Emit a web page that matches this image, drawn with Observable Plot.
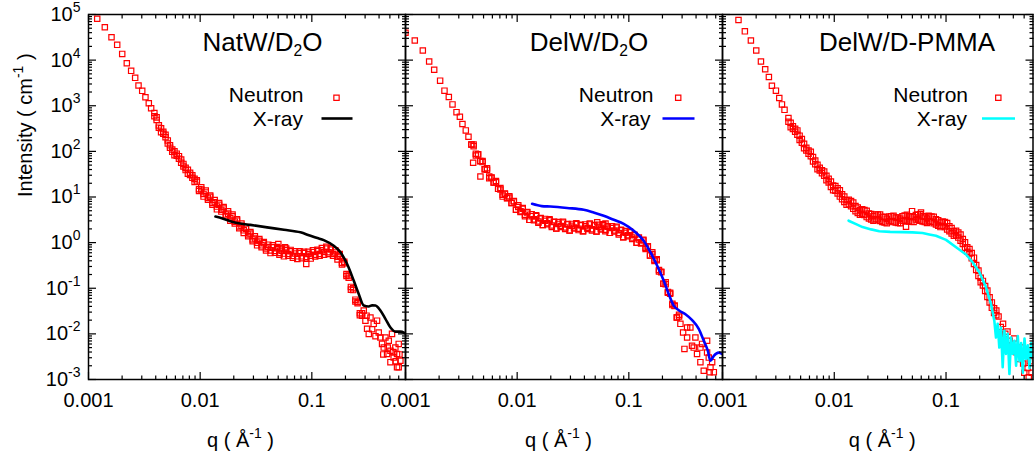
<!DOCTYPE html>
<html>
<head>
<meta charset="utf-8">
<script src="https://cdn.jsdelivr.net/npm/d3@7"></script>
<script src="https://cdn.jsdelivr.net/npm/@observablehq/plot@0.6"></script>
<style>
  html, body { margin: 0; padding: 0; background: #fff; }
  #chart { position: relative; width: 1034px; height: 455px; overflow: hidden; }
  #chart svg { position: absolute; left: 0; top: 0; }
</style>
</head>
<body>
<div id="chart"></div>
<script>
// ---- axis ticks and labels ----
const xMajorTicks = [0.001, 0.01, 0.1];
const xMajorLabels = ["0.001", "0.01", "0.1"];
const xMinorTicks = [0.002, 0.003, 0.004, 0.005, 0.006, 0.007, 0.008, 0.009,
                     0.02, 0.03, 0.04, 0.05, 0.06, 0.07, 0.08, 0.09,
                     0.2, 0.3, 0.4, 0.5, 0.6];
const yMajorTicks = [1e-3, 1e-2, 1e-1, 1, 10, 100, 1e3, 1e4, 1e5];
const yMajorLabels = ["10^{-3}", "10^{-2}", "10^{-1}", "10^{0}", "10^{1}", "10^{2}", "10^{3}", "10^{4}", "10^{5}"];
const yMinorTicks = yMajorTicks.slice(0, -1).flatMap(d => [2, 3, 4, 5, 6, 7, 8, 9].map(m => m * d));

// ---- SANS q grid shared by the neutron runs (Å^-1) ----
const qDense = [0.00389, 0.004074, 0.004266, 0.004467, 0.004677, 0.004898, 0.005129, 0.00537, 0.005623, 0.005888,
  0.006166, 0.006457, 0.006761, 0.007079, 0.007413, 0.007762, 0.008128, 0.008511, 0.008913,
  0.009333, 0.009772, 0.01023, 0.01072, 0.01122, 0.01175, 0.0123, 0.01288, 0.01349, 0.01413,
  0.01479, 0.01549, 0.01622, 0.01698, 0.01778, 0.01862, 0.0195, 0.02042, 0.02138, 0.02239,
  0.02344, 0.02455, 0.0257, 0.02692, 0.02818, 0.02951, 0.0309, 0.03236, 0.03388, 0.03548,
  0.03715, 0.0389, 0.04074, 0.04266, 0.04467, 0.04677, 0.04898, 0.05129, 0.0537, 0.05623,
  0.05888, 0.06166, 0.06457, 0.06761, 0.07079, 0.07413, 0.07762, 0.08128, 0.08511, 0.08913,
  0.09333, 0.09772, 0.1023, 0.1072, 0.1122, 0.1175, 0.123, 0.1288, 0.1349, 0.1413,
  0.1479, 0.1549, 0.1622, 0.1698, 0.1778, 0.1862, 0.195, 0.2042, 0.2138, 0.2239,
  0.2344, 0.2455, 0.257, 0.2692, 0.2818];

// ---- NatW / D2O ----
const natwLowQ = [0.001197, 0.0014, 0.001607, 0.001807, 0.002004, 0.002203, 0.00241, 0.002618, 0.002805, 0.003027, 0.003236, 0.003467, 0.003639];
const natwLowI = [80500, 52700, 31800, 21600, 13700, 8550, 5820, 4090, 2770, 2120, 1535, 1135, 881];
// two detector runs on the shared grid
const natwDenseI = [692, 490, 371.5, 263, 269, 204, 174, 120, 110, 82.2, 89.1, 69.2, 66.1, 46.8, 43.7, 32.4, 33.9, 26.3, 25.1,
  23.2, 14.8, 14.6, 10.2, 12.6, 9.55, 10.8, 7.41, 7.67, 5.37,
  6.76, 5.25, 6.03, 4.12, 4.32, 3.02, 3.76, 2.88, 3.27, 2.26,
  2.34, 1.62, 2.0, 1.51, 1.7, 1.17, 1.23, 0.871, 1.1, 0.871,
  1.035, 0.741, 0.804, 0.589, 0.794, 0.661, 0.804, 0.596, 0.661, 0.501,
  0.676, 0.562, 0.692, 0.513, 0.575, 0.437, 0.589, 0.501, 0.631, 0.484,
  0.562, 0.447, 0.624, 0.543, 0.7, 0.562, 0.676, 0.543, 0.741, 0.617,
  0.759, 0.562, 0.61, 0.427, 0.513, 0.363, 0.38, 0.204, 0.17, 0.0933,
  0.0912, 0.0562, 0.0501, 0.0282, 0.0251];
const natwDenseI2 = [589, 556, 331, 320, 243, 232, 148, 136, 97.7, 100, 80.4, 78.5, 56.2, 53.1, 38.9, 39.4, 30.5, 29.9, 21.4,
  21.6, 13.5, 16.4, 11.7, 13.8, 8.71, 10.1, 6.76, 8.61, 6.17,
  7.41, 4.79, 5.62, 3.76, 4.84, 3.47, 4.12, 2.63, 3.05, 2.07,
  2.63, 1.86, 2.19, 1.38, 1.58, 1.07, 1.38, 1.0, 1.2, 0.794,
  0.966, 0.676, 0.902, 0.676, 0.871, 0.603, 0.75, 0.543, 0.741, 0.575,
  0.741, 0.513, 0.646, 0.468, 0.646, 0.501, 0.646, 0.457, 0.589, 0.442,
  0.631, 0.513, 0.684, 0.495, 0.653, 0.513, 0.759, 0.624, 0.813, 0.562,
  0.708, 0.513, 0.684, 0.49, 0.562, 0.331, 0.355, 0.186, 0.191, 0.107,
  0.1, 0.0513, 0.0468, 0.0257, 0.0282];
const natwExtraQ = [0.2917, 0.302, 0.3126, 0.3236, 0.335, 0.3581, 0.3837, 0.3972, 0.4111, 0.4256, 0.4406, 0.456, 0.4721, 0.4887,
  0.5058, 0.5058, 0.5224, 0.5408, 0.5598, 0.5794, 0.5794, 0.5998, 0.6209, 0.5998, 0.309, 0.3467, 0.3715, 0.4365, 0.4786,
  0.537, 0.5623, 0.6095, 0.05012, 0.05754, 0.08913];
const natwExtraI = [0.0324, 0.0195, 0.0129, 0.01, 0.0229, 0.0166, 0.0195, 0.0107, 0.00832, 0.00603, 0.00501, 0.00832, 0.00363, 0.00708,
  0.00427, 0.0024, 0.01, 0.00302, 0.00501, 0.00363, 0.00186, 0.00603, 0.00257, 0.00186, 0.0251, 0.0126, 0.00891, 0.00355, 0.00501,
  0.00398, 0.00251, 0.00355, 0.933, 0.794, 0.34];
const natwXrayQ = [0.01371, 0.01585, 0.02, 0.02818, 0.03981, 0.05623, 0.0791, 0.0973, 0.1122, 0.1279, 0.157, 0.1803, 0.207,
  0.2371, 0.263, 0.2917, 0.3228, 0.3467, 0.3715, 0.4111, 0.456, 0.5058, 0.5598, 0.6209, 0.6887];
const natwXrayI = [3.72, 3.39, 2.79, 2.45, 2.16, 1.91, 1.68, 1.41, 1.26, 1.135, 0.851, 0.617, 0.339,
  0.148, 0.075, 0.0417, 0.0398, 0.0422, 0.0417, 0.0324, 0.0214, 0.0138, 0.0112, 0.0112, 0.0102];

// ---- DelW / D2O ----
const delwLowQ = [0.001, 0.001211, 0.001429, 0.001629, 0.001807, 0.002042, 0.002234, 0.002443, 0.002636, 0.002864, 0.003069, 0.003236, 0.003467, 0.003664];
const delwLowI = [39800, 26900, 16200, 9330, 6170, 3550, 2140, 1550, 1070, 724, 575, 398, 288, 209];
const delwDenseI = [141, 141, 81.3, 85.1, 61.7, 61.7, 40.7, 42.7, 25.7, 26.3, 20.9, 22.4, 15.1, 15.8, 10.2, 11.7, 9.55, 10.4, 7.41,
  8.13, 5.25, 6.03, 4.9, 5.5, 4.07, 4.68, 3.16, 3.8, 3.24,
  3.8, 2.92, 3.47, 2.43, 3.02, 2.66, 3.09, 2.37, 2.88, 2.04,
  2.57, 2.32, 2.75, 2.14, 2.57, 1.84, 2.34, 2.14, 2.54, 2.02,
  2.45, 1.78, 2.29, 2.09, 2.51, 1.97, 2.43, 1.76, 2.24, 2.04,
  2.43, 1.91, 2.29, 1.64, 2.09, 1.84, 2.14, 1.62, 1.91, 1.32,
  1.64, 1.45, 1.68, 1.29, 1.48, 1.0, 1.17, 1.0, 1.11, 0.776,
  0.832, 0.525, 0.562, 0.417, 0.412, 0.251, 0.229, 0.126, 0.123, 0.0832,
  0.0759, 0.0457, 0.0417, 0.0229, 0.024];
const delwDenseI2 = [141, 130, 89.1, 86.1, 61.0, 58.2, 40.7, 39.4, 28.2, 26.6, 20.7, 21.1, 15.1, 14.6, 11.2, 11.9, 9.44, 9.77, 7.41,
  7.94, 5.25, 6.61, 4.68, 5.75, 3.8, 4.57, 3.16, 4.17, 3.09,
  3.98, 2.72, 3.39, 2.43, 3.31, 2.54, 3.24, 2.21, 2.82, 2.04,
  2.82, 2.21, 2.88, 2.0, 2.51, 1.84, 2.57, 2.04, 2.66, 1.88,
  2.4, 1.78, 2.51, 2.0, 2.63, 1.84, 2.37, 1.76, 2.45, 1.95,
  2.54, 1.78, 2.24, 1.64, 2.29, 1.76, 2.24, 1.51, 1.86, 1.32,
  1.8, 1.38, 1.76, 1.2, 1.45, 1.0, 1.29, 0.955, 1.16, 0.724,
  0.813, 0.525, 0.617, 0.398, 0.432, 0.234, 0.224, 0.126, 0.135, 0.0794,
  0.0794, 0.0427, 0.0407, 0.0229, 0.0263];
const delwExtraQ = [0.004036, 0.004688, 0.05212, 0.0618,
  0.2897, 0.3062, 0.3148, 0.3327, 0.3556, 0.3681, 0.3945, 0.4083, 0.4375, 0.4529, 0.4688, 0.5023, 0.52, 0.5383,
  0.5572, 0.5297, 0.5768, 0.5023, 0.4375, 0.3811, 0.3327];
const delwExtraI = [56.2, 28.2, 2.79, 2.63,
  0.0166, 0.0107, 0.00468, 0.00832, 0.0138, 0.0055, 0.00832, 0.00363, 0.0024, 0.00603, 0.00155, 0.00708, 0.00302, 0.00186,
  0.0024, 0.00145, 0.00145, 0.00389, 0.00501, 0.00501, 0.0138];
const delwXrayQ = [0.01361, 0.0166, 0.01986, 0.02799, 0.03945, 0.04842, 0.05957, 0.07328, 0.08995, 0.1107, 0.1358, 0.156, 0.1791,
  0.2051, 0.2275, 0.2523, 0.2799, 0.3214, 0.369, 0.4227, 0.4688, 0.5093, 0.5383, 0.5768, 0.6383, 0.6839];
const delwXrayI = [7.08, 6.31, 6.17, 5.75, 5.25, 4.57, 3.89, 3.16, 2.57, 1.82, 1.1, 0.617, 0.316,
  0.148, 0.075, 0.0417, 0.0331, 0.0269, 0.02, 0.0129, 0.00708, 0.00427, 0.00257, 0.00331, 0.00389, 0.00363];

// ---- DelW / D-PMMA ----
const pmmaLowQ = [0.00139, 0.001585, 0.001795, 0.002004, 0.002208, 0.00241, 0.0026, 0.002767, 0.003006, 0.003221, 0.003404, 0.003589];
const pmmaLowI = [75900, 42700, 26900, 16200, 9330, 6310, 4270, 2750, 2140, 1480, 1070, 813];
const pmmaDenseI = [537, 339, 355, 269, 288, 178, 186, 117, 120, 89.1, 97.7, 60.3, 63.1, 40.7, 43.7, 33.1, 36.3, 23.4, 25.1,
  16.6, 17.8, 13.8, 15.5, 10.2, 11.5, 7.76, 8.51, 6.92, 8.13,
  5.5, 6.31, 4.47, 5.13, 4.27, 5.19, 3.63, 4.37, 3.2, 3.8,
  3.27, 4.12, 2.99, 3.67, 2.75, 3.35, 2.95, 3.8, 2.82, 3.55,
  2.69, 3.35, 3.02, 3.94, 2.95, 3.76, 2.88, 3.59, 3.2, 4.12,
  3.02, 3.76, 2.82, 3.39, 2.95, 3.72, 2.66, 3.24, 2.34, 2.75,
  2.32, 2.82, 1.95, 2.29, 1.58, 1.78, 1.45, 1.66, 1.1, 1.2,
  0.776, 0.794, 0.575, 0.589, 0.339, 0.324, 0.186, 0.17, 0.115, 0.112,
  0.0646, 0.0631, 0.0372, 0.0363, 0.0257];
const pmmaDenseI2 = [447, 422, 309, 313, 232, 221, 155, 146, 105, 104, 78.5, 75.0, 52.5, 50.7, 38.0, 38.5, 29.2, 29.2, 20.9,
  21.9, 14.1, 17.4, 12.0, 14.1, 8.91, 10.2, 6.76, 8.71, 6.31,
  7.59, 4.9, 5.89, 4.07, 5.37, 4.03, 5.01, 3.39, 4.22, 3.02,
  4.12, 3.2, 4.12, 2.85, 3.63, 2.66, 3.72, 2.95, 3.89, 2.75,
  3.55, 2.66, 3.8, 3.05, 4.07, 2.92, 3.8, 2.85, 4.03, 3.2,
  4.17, 2.92, 3.72, 2.69, 3.72, 2.88, 3.67, 2.51, 3.09, 2.19,
  2.92, 2.19, 2.69, 1.78, 2.09, 1.41, 1.82, 1.29, 1.51, 0.933,
  1.02, 0.631, 0.724, 0.457, 0.468, 0.251, 0.245, 0.135, 0.145, 0.0871,
  0.0891, 0.049, 0.049, 0.0288, 0.0324];
const pmmaExtraQ = [0.04966, 0.0597, 0.06982, 0.04385,
  0.2951, 0.309, 0.3236, 0.3388, 0.3548, 0.3715, 0.389, 0.4074, 0.4266, 0.4467, 0.4677, 0.4898, 0.5012, 0.5129,
  0.537, 0.5495, 0.5623, 0.5821];
const pmmaExtraI = [4.9, 4.57, 3.89, 2.24,
  0.024, 0.0141, 0.0166, 0.01, 0.0112, 0.00708, 0.00562, 0.00794, 0.00398, 0.00282, 0.00501, 0.00224, 0.00141, 0.00355,
  0.00178, 0.00112, 0.00251, 0.00141];
const pmmaXrayQ = [0.01343, 0.01585, 0.01791, 0.02138, 0.02529, 0.03162, 0.04093, 0.05012, 0.06166, 0.07079,
  0.08128, 0.1, 0.123, 0.151, 0.173, 0.1986, 0.228, 0.2523, 0.2704, 0.2799,
  0.2897, 0.2999, 0.3105, 0.3214, 0.3327, 0.3443, 0.3565, 0.369, 0.3819, 0.3954,
  0.4093, 0.4236, 0.4385, 0.4539, 0.4699, 0.4864, 0.5035, 0.5212, 0.5395, 0.5585, 0.5781, 0.5916];
const pmmaXrayI = [3.02, 2.51, 2.19, 1.95, 1.78, 1.72, 1.7, 1.68, 1.62, 1.51,
  1.41, 1.15, 0.794, 0.55, 0.372, 0.224, 0.105, 0.0457, 0.0195, 0.00832,
  0.0166, 0.00501, 0.0138, 0.00186, 0.0117, 0.00363, 0.01, 0.00132, 0.00832, 0.00363,
  0.00708, 0.002, 0.00891, 0.00251, 0.00631, 0.00141, 0.00794, 0.00282, 0.00562, 0.00178, 0.00631, 0.00316];

// ---- helpers ----
const rows = (qs, is) => qs.map((q, i) => ({q, I: is[i]}));
const neutronRows = (lowQ, lowI, denseA, denseB, extraQ, extraI) =>
  [...rows(lowQ, lowI), ...rows(qDense, denseA), ...rows(qDense, denseB), ...rows(extraQ, extraI)];

const xLabelOf = new Map(xMajorTicks.map((d, i) => [d, xMajorLabels[i]]));
const yLabelOf = new Map(yMajorTicks.map((d, i) => [d, yMajorLabels[i]]));

// horizontal stroke used as the line sample in each legend
const legendSegment = {
  draw(context, size) {
    const h = Math.sqrt(size / Math.PI);
    context.moveTo(-h, 0);
    context.lineTo(h, 0);
  }
};

// turn ^{..} and _{..} into raised / lowered tspans
function richText(svg) {
  d3.select(svg).selectAll("text").each(function () {
    const raw = this.textContent;
    if (!/[\^_]\{/.test(raw)) return;
    const parts = raw.split(/([\^_]\{[^}]*\})/).filter(s => s.length);
    const el = d3.select(this);
    el.text(null);
    let shift = 0;
    parts.forEach((p, k) => {
      const m = p.match(/^([\^_])\{([^}]*)\}$/);
      const t = el.append("tspan");
      if (m) {
        const up = m[1] === "^";
        const target = up ? -0.45 : 0.2;
        const scale = up ? 0.7 : 0.6;
        t.attr("font-size", `${scale * 100}%`).attr("dy", `${(target - shift) / scale}em`).text(m[2]);
        shift = target;
      } else {
        if (k > 0) t.attr("dy", `${-shift}em`);
        t.text(p);
        shift = 0;
      }
    });
  });
}

const FONT = '"Liberation Sans", Arial, Helvetica, sans-serif';
const RED = "#ff0000";

const panels = [
  {left: 88, right: 405, xMax: 0.69, title: "NatW/D_{2}O", titleDx: 174, xLabelDx: -6.5,
   neutron: neutronRows(natwLowQ, natwLowI, natwDenseI, natwDenseI2, natwExtraQ, natwExtraI),
   xray: rows(natwXrayQ, natwXrayI), xrayColor: "#000000", curve: "monotone-x",
   legend: {neutron: -102, xray: -102.5, mark: -69, line: -68.5, half: 15.5}, yLabels: true},
  {left: 405, right: 722, xMax: 0.69, title: "DelW/D_{2}O", titleDx: 183.5, xLabelDx: -5.5,
   neutron: neutronRows(delwLowQ, delwLowI, delwDenseI, delwDenseI2, delwExtraQ, delwExtraI),
   xray: rows(delwXrayQ, delwXrayI), xrayColor: "#0000ff", curve: "monotone-x",
   legend: {neutron: -69, xray: -72, mark: -44.3, line: -44, half: 16}, yLabels: false},
  {left: 722, right: 1032.5, xMax: 0.6, title: "DelW/D-PMMA", titleDx: 184.5, xLabelDx: 4.5,
   neutron: neutronRows(pmmaLowQ, pmmaLowI, pmmaDenseI, pmmaDenseI2, pmmaExtraQ, pmmaExtraI),
   xray: rows(pmmaXrayQ, pmmaXrayI), xrayColor: "#00ffff", curve: "linear",
   legend: {neutron: -65, xray: -66, mark: -34.7, line: -34.5, half: 16.5}, yLabels: false}
];

const W = 1034, H = 455;
const chart = document.getElementById("chart");

for (const p of panels) {
  const xMinor = xMinorTicks.filter(v => v < p.xMax);
  const marks = [
    // neutron data: open red squares
    Plot.dot(p.neutron, {x: "q", y: "I", symbol: "square", r: 3, stroke: RED, strokeWidth: 1.2, fill: "none", clip: true}),
    // x-ray curve
    Plot.line(p.xray, {x: "q", y: "I", stroke: p.xrayColor, strokeWidth: 2.6, curve: p.curve, clip: true}),

    // inward ticks on all four sides
    Plot.axisX(xMajorTicks, {anchor: "bottom", tickSize: -7, fill: "none", strokeWidth: 1.2}),
    Plot.axisX(xMinor, {anchor: "bottom", tickSize: -3.5, fill: "none", strokeWidth: 1.2}),
    Plot.axisX(xMajorTicks, {anchor: "top", tickSize: -7, fill: "none", strokeWidth: 1.2}),
    Plot.axisX(xMinor, {anchor: "top", tickSize: -3.5, fill: "none", strokeWidth: 1.2}),
    Plot.axisY(yMajorTicks, {anchor: "left", tickSize: -8, fill: "none", strokeWidth: 1.2}),
    Plot.axisY(yMinorTicks, {anchor: "left", tickSize: -4, fill: "none", strokeWidth: 1.2}),
    Plot.axisY(yMajorTicks, {anchor: "right", tickSize: -8, fill: "none", strokeWidth: 1.2}),
    Plot.axisY(yMinorTicks, {anchor: "right", tickSize: -4, fill: "none", strokeWidth: 1.2}),

    // tick labels and axis title
    Plot.axisX(xMajorTicks, {anchor: "bottom", tickSize: 0, tickPadding: 13, tickFormat: d => xLabelOf.get(d), fontSize: 20, label: null}),
    Plot.text(["q ( Å^{-1} )"], {text: d => d, frameAnchor: "bottom", dx: p.xLabelDx, dy: 67.5, lineAnchor: "bottom", fontSize: 20}),

    // panel title
    Plot.text([p.title], {text: d => d, frameAnchor: "top-left", dx: p.titleDx, dy: 36, textAnchor: "middle", lineAnchor: "bottom", fontSize: 26}),

    // legend
    Plot.text(["Neutron"], {text: d => d, frameAnchor: "top-right", dx: p.legend.neutron, dy: 87, textAnchor: "end", lineAnchor: "bottom", fontSize: 21}),
    Plot.dot([0], {frameAnchor: "top-right", dx: p.legend.mark, dy: 83.3, symbol: "square", r: 3, stroke: RED, strokeWidth: 1.2, fill: "none"}),
    Plot.text(["X-ray"], {text: d => d, frameAnchor: "top-right", dx: p.legend.xray, dy: 111, textAnchor: "end", lineAnchor: "bottom", fontSize: 21}),
    Plot.dot([0], {frameAnchor: "top-right", dx: p.legend.line, dy: 104, symbol: legendSegment, r: p.legend.half, stroke: p.xrayColor, strokeWidth: 2.6, fill: "none"}),

    Plot.frame({stroke: "black", strokeWidth: 1.5})
  ];
  if (p.yLabels) {
    marks.push(
      Plot.axisY(yMajorTicks, {anchor: "left", tickSize: 0, tickPadding: 8, tickFormat: d => yLabelOf.get(d), fontSize: 20, label: null}),
      Plot.text(["Intensity ( cm^{-1} )"], {text: d => d, frameAnchor: "left", dx: -63, rotate: -90, fontSize: 20})
    );
  }
  const svg = Plot.plot({
    width: W,
    height: H,
    marginLeft: p.left,
    marginRight: W - p.right,
    marginTop: 14,
    marginBottom: 76,
    style: {background: "transparent", color: "black", fontFamily: FONT, overflow: "visible"},
    x: {type: "log", domain: [0.001, p.xMax]},
    y: {type: "log", domain: [1e-3, 1e5]},
    marks
  });
  richText(svg);
  chart.appendChild(svg);
}
</script>
</body>
</html>
